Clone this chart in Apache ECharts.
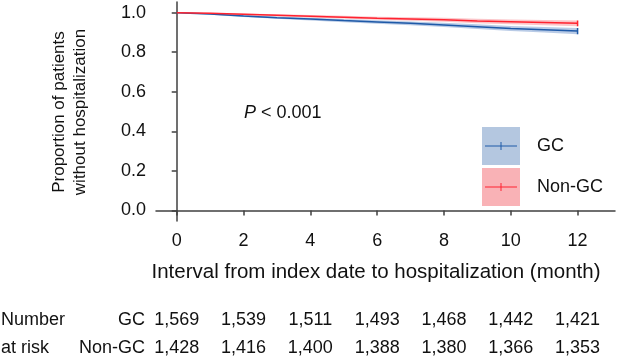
<!DOCTYPE html>
<html>
<head>
<meta charset="utf-8">
<script src="https://cdn.jsdelivr.net/npm/echarts@6/dist/echarts.min.js"></script>
<style>
  html, body { margin: 0; padding: 0; background: #fff; }
  #chart { width: 619px; height: 360px; }
</style>
</head>
<body>
<div id="chart"></div>
<script>
// months since index date
const months = [0, 1, 2, 3, 4, 5, 6, 7, 8, 9, 10, 11, 12];

// GC survival estimate and 95% CI
const gcEst   = [1.000, 0.993, 0.983, 0.975, 0.968, 0.960, 0.953, 0.946, 0.938, 0.929, 0.920, 0.914, 0.907];
const gcLower = [1.000, 0.989, 0.978, 0.969, 0.961, 0.952, 0.944, 0.936, 0.927, 0.917, 0.907, 0.900, 0.891];
const gcUpper = [1.000, 0.997, 0.988, 0.981, 0.975, 0.968, 0.962, 0.956, 0.949, 0.941, 0.933, 0.928, 0.923];

// Non-GC survival estimate and 95% CI
const ngEst   = [1.000, 0.997, 0.992, 0.987, 0.982, 0.977, 0.972, 0.968, 0.964, 0.958, 0.954, 0.950, 0.946];
const ngLower = [1.000, 0.994, 0.988, 0.982, 0.976, 0.970, 0.964, 0.959, 0.954, 0.947, 0.942, 0.937, 0.932];
const ngUpper = [1.000, 1.000, 0.996, 0.992, 0.988, 0.984, 0.980, 0.977, 0.974, 0.969, 0.966, 0.963, 0.960];

// axis ticks
const xTicks = [0, 2, 4, 6, 8, 10, 12];
const yTicks = [0, 0.2, 0.4, 0.6, 0.8, 1.0];

// number at risk table
const riskMonths = [0, 2, 4, 6, 8, 10, 12];
const riskGC = ['1,569', '1,539', '1,511', '1,493', '1,468', '1,442', '1,421'];
const riskNonGC = ['1,428', '1,416', '1,400', '1,388', '1,380', '1,366', '1,353'];

const FONT = '"Liberation Sans", Arial, sans-serif';
const AXIS = '#404040';
const BLUE = '#1f5aa8';
const RED = '#ff2330';

const X_MIN = -0.62, X_MAX = 13.12;
const Y_MIN = -0.053, Y_MAX = 1.054;
const GRID = { left: 156, right: 4, top: 2, bottom: 139 };

const pairs = (xs, ys) => xs.map((x, i) => [x, ys[i]]);

// CI band as a polygon drawn through the axis scales
const bandSeries = (lower, upper, color) => ({
  type: 'custom',
  silent: true,
  z: 1,
  data: [0],
  renderItem: (params, api) => {
    const pts = [];
    months.forEach((m, i) => pts.push(api.coord([m, upper[i]])));
    for (let i = months.length - 1; i >= 0; i--) pts.push(api.coord([months[i], lower[i]]));
    return {
      type: 'polygon',
      shape: { points: pts },
      style: { fill: color }
    };
  }
});

const chart = echarts.init(document.getElementById('chart'));

// risk table on pixel positions matching the month ticks
const monthToPx = (m) => {
  const w = 619 - GRID.left - GRID.right;
  return GRID.left + (m - X_MIN) / (X_MAX - X_MIN) * w;
};
const txt = (text, x, y, align, extra) => ({
  type: 'text',
  x, y,
  style: Object.assign({
    text, fill: '#111', font: '18px ' + FONT,
    align: align || 'left', verticalAlign: 'middle'
  }, extra || {})
});

const graphics = [
  // y axis title
  Object.assign(txt('Proportion of patients\nwithout hospitalization', 70, 112, 'center', { font: '17px ' + FONT, lineHeight: 21 }), { rotation: Math.PI / 2 }),
  // P value
  {
    type: 'text', x: 244, y: 113,
    style: {
      text: '{i|P} < 0.001', font: '18px ' + FONT, fill: '#111', verticalAlign: 'middle',
      rich: { i: { fontStyle: 'italic', font: 'italic 18px ' + FONT, fill: '#111' } }
    }
  },
  // legend
  { type: 'rect', shape: { x: 482, y: 127, width: 38, height: 38 }, style: { fill: '#b4c7e0' } },
  { type: 'line', shape: { x1: 485, y1: 146, x2: 517, y2: 146 }, style: { stroke: BLUE, lineWidth: 1 } },
  { type: 'line', shape: { x1: 501, y1: 142, x2: 501, y2: 150 }, style: { stroke: BLUE, lineWidth: 1 } },
  { type: 'rect', shape: { x: 482, y: 168, width: 38, height: 38 }, style: { fill: '#f9b2b6' } },
  { type: 'line', shape: { x1: 485, y1: 187, x2: 517, y2: 187 }, style: { stroke: RED, lineWidth: 1 } },
  { type: 'line', shape: { x1: 501, y1: 183, x2: 501, y2: 191 }, style: { stroke: RED, lineWidth: 1 } },
  txt('GC', 537, 146),
  txt('Non-GC', 537, 187),
  // number at risk
  txt('Number', 1, 320),
  txt('at risk', 1, 348),
  txt('GC', 145, 320, 'right'),
  txt('Non-GC', 145, 348, 'right')
];
riskMonths.forEach((m, i) => {
  graphics.push(txt(riskGC[i], monthToPx(m), 320, 'center'));
  graphics.push(txt(riskNonGC[i], monthToPx(m), 348, 'center'));
});

const option = {
  animation: false,
  backgroundColor: '#fff',
  grid: Object.assign({ outerBoundsMode: 'none' }, GRID),
  xAxis: {
    type: 'value',
    min: X_MIN,
    max: X_MAX,
    splitLine: { show: false },
    axisLine: { show: true, lineStyle: { color: AXIS, width: 1.5 } },
    axisTick: { show: true, length: 5, customValues: xTicks, lineStyle: { color: AXIS, width: 1.5 } },
    axisLabel: { customValues: xTicks, margin: 11, fontSize: 18, fontFamily: FONT, color: '#111' },
    name: 'Interval from index date to hospitalization (month)',
    nameLocation: 'middle',
    nameGap: 41,
    nameTextStyle: { fontSize: 20.5, fontFamily: FONT, color: '#111', padding: [0, 19, 0, 0] }
  },
  yAxis: {
    type: 'value',
    min: Y_MIN,
    max: Y_MAX,
    splitLine: { show: false },
    axisLine: { show: true, lineStyle: { color: AXIS, width: 1.5 } },
    axisTick: { show: true, length: 5, customValues: yTicks, lineStyle: { color: AXIS, width: 1.5 } },
    axisLabel: {
      customValues: yTicks, margin: 10, fontSize: 18, fontFamily: FONT, color: '#111',
      formatter: (v) => v.toFixed(1)
    }
  },
  series: [
    bandSeries(gcLower, gcUpper, 'rgba(100,140,200,0.45)'),
    bandSeries(ngLower, ngUpper, 'rgba(245,110,120,0.4)'),
    {
      name: 'GC', type: 'line', z: 3, symbol: 'none',
      data: pairs(months, gcEst),
      lineStyle: { color: BLUE, width: 1.5 }
    },
    {
      name: 'Non-GC', type: 'line', z: 3, symbol: 'none',
      data: pairs(months, ngEst),
      lineStyle: { color: RED, width: 1.5 }
    },
    {
      name: 'GC end', type: 'line', z: 3, symbol: 'none',
      data: [[12, gcLower[12]], [12, gcUpper[12]]],
      lineStyle: { color: BLUE, width: 1.5 }
    },
    {
      name: 'Non-GC end', type: 'line', z: 3, symbol: 'none',
      data: [[12, ngLower[12]], [12, ngUpper[12]]],
      lineStyle: { color: RED, width: 1.5 }
    }
  ],
  graphic: graphics
};

chart.setOption(option);
</script>
</body>
</html>
